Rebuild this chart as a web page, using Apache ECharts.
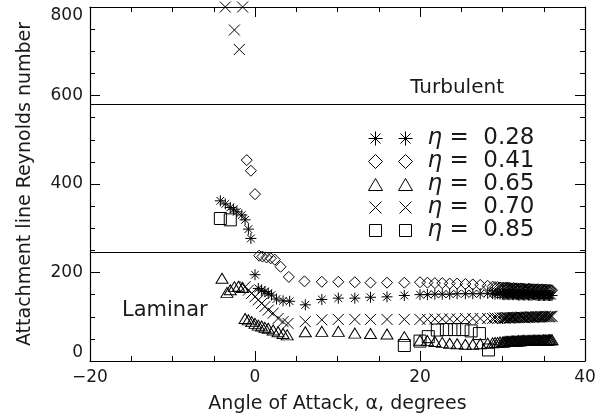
<!DOCTYPE html>
<html>
<head>
<meta charset="utf-8">
<script src="https://cdn.jsdelivr.net/npm/echarts@6/dist/echarts.min.js"></script>
<style>
html,body{margin:0;padding:0;background:#fff;}
#chart{width:602px;height:417px;}
</style>
</head>
<body>
<div id="chart"></div>
<script>
// ---- data (angle of attack in degrees, attachment-line Reynolds number) ----
const etaLabels = ['0.28', '0.41', '0.65', '0.70', '0.85'];

const eta028 = [
  [-4.2,362],[-3.6,355],[-3.0,347],[-2.6,343],[-2.2,337],[-1.6,330],[-1.2,319],[-0.8,298],[-0.5,277],
  [0.0,195],[0.4,164],[0.8,160],[1.2,157],[1.6,153],[2.0,149],[2.6,140],[3.4,136],[4.2,135],
  [6.1,127],[8.1,139],[10.1,142],[12.1,142],[14.0,144],[16.0,145],[18.1,148],
  [20.0,150],[20.9,150],[21.8,151],[22.7,151],[23.6,151],[24.5,152],[25.5,152],[26.4,152],[27.3,152],[28.2,153],
  [28.8,152],[29.1,151],[29.4,152],[29.7,151],[30.0,151],[30.15,150],[30.3,150],[30.45,151],[30.6,151],[30.75,150],
  [30.9,150],[31.05,151],[31.2,150],[31.35,150],[31.5,151],[31.65,150],[31.8,150],[31.95,149],[32.1,149],[32.25,150],
  [32.4,150],[32.55,149],[32.7,149],[32.85,150],[33.0,150],[33.15,149],[33.3,149],[33.45,149],[33.6,149],[33.75,150],
  [33.9,150],[34.05,149],[34.2,149],[34.35,148],[34.5,148],[34.65,149],[34.8,149],[34.95,148],[35.1,148],[35.25,149],
  [35.4,149],[35.55,148],[35.7,148],[35.85,148],[36.0,148]
];
const eta041 = [
  [-1.0,454],[-0.5,430],[0.0,377],[0.5,238],[0.9,236],[1.4,234],[1.9,232],[2.4,229],[3.1,213],[4.1,190],
  [6.0,180],[8.1,179],[10.1,179],[12.1,178],[14.0,177],[16.0,177],[18.1,177],
  [20.0,178],[20.9,177],[21.8,176],[22.7,176],[23.6,175],[24.5,175],[25.5,174],[26.4,173],[27.3,172],[28.2,170],
  [28.8,168],[29.1,167],[29.4,167],[29.7,166],[30.0,166],[30.15,165],[30.3,165],[30.45,166],[30.6,165],[30.75,165],
  [30.9,165],[31.05,164],[31.2,164],[31.35,165],[31.5,164],[31.65,164],[31.8,164],[31.95,163],[32.1,163],[32.25,164],
  [32.4,163],[32.55,163],[32.7,163],[32.85,162],[33.0,162],[33.15,163],[33.3,163],[33.45,162],[33.6,162],[33.75,162],
  [33.9,162],[34.05,161],[34.2,162],[34.35,162],[34.5,161],[34.65,161],[34.8,162],[34.95,161],[35.1,161],[35.25,161],
  [35.4,161],[35.55,160],[35.7,161],[35.85,160],[36.0,160]
];
const eta065 = [
  [-4.0,187],[-3.4,155],[-3.0,161],[-2.5,168],[-2.0,169],[-1.5,166],
  [-1.2,96],[-0.8,93],[-0.4,89],[0.0,85],[0.4,81],[0.8,79],[1.2,76],[1.6,74],[2.2,70],[2.8,66],[3.4,62],[3.9,59],
  [6.1,66],[8.1,67],[10.1,67],[12.1,63],[14.0,62],[16.0,61],[18.1,55],
  [20.0,47],[20.9,46],[21.8,44],[22.7,42],[23.6,40],[24.5,39],[25.5,38],[26.4,38],[27.3,39],[28.2,40],
  [28.8,41],[29.1,42],[29.4,42],[29.7,43],[30.0,43],[30.15,43],[30.3,44],[30.45,44],[30.6,44],[30.75,44],
  [30.9,44],[31.05,45],[31.2,45],[31.35,45],[31.5,45],[31.65,45],[31.8,45],[31.95,46],[32.1,45],[32.25,46],
  [32.4,46],[32.55,46],[32.7,46],[32.85,46],[33.0,46],[33.15,46],[33.3,46],[33.45,47],[33.6,46],[33.75,47],
  [33.9,47],[34.05,47],[34.2,47],[34.35,47],[34.5,47],[34.65,47],[34.8,47],[34.95,48],[35.1,47],[35.25,48],
  [35.4,47],[35.55,48],[35.7,48],[35.85,48],[36.0,48]
];
const eta070 = [
  [-3.6,800],[-1.5,800],[-2.5,748],[-1.9,704],
  [-1.2,168],[-0.8,160],[-0.4,153],[0.0,145],[0.4,138],[0.8,130],[1.2,123],[1.6,115],[2.2,108],[2.8,96],[3.4,89],[4.0,85],
  [6.1,89],[8.1,93],[10.1,94],[12.1,94],[14.0,94],[16.0,94],[18.1,94],
  [20.0,94],[20.9,94],[21.8,95],[22.7,95],[23.6,95],[24.5,95],[25.5,96],[26.4,96],[27.3,96],[28.2,96],
  [28.8,96],[29.1,97],[29.4,96],[29.7,97],[30.0,97],[30.15,97],[30.3,97],[30.45,98],[30.6,98],[30.75,97],
  [30.9,97],[31.05,98],[31.2,98],[31.35,98],[31.5,98],[31.65,98],[31.8,98],[31.95,99],[32.1,98],[32.25,99],
  [32.4,99],[32.55,98],[32.7,98],[32.85,99],[33.0,99],[33.15,99],[33.3,99],[33.45,100],[33.6,99],[33.75,99],
  [33.9,99],[34.05,100],[34.2,100],[34.35,100],[34.5,99],[34.65,100],[34.8,100],[34.95,100],[35.1,100],[35.25,101],
  [35.4,100],[35.55,100],[35.7,100],[35.85,101],[36.0,101]
];
const eta085 = [
  [-4.2,322],[-3.0,319],[18.1,35],[20.0,45],[21.0,55],[22.1,70],[23.2,71],[24.2,71],[25.2,71],[26.2,68],[27.2,62],[28.3,25]
];
const turbulentLevel = 580;
const laminarLevel = 246;
// ---------------------------------------------------------------------------

const FONT = 'DejaVu Sans';
const INK = '#1a1a1a';

const asteriskPath = 'path://M0,5L10,5M5,0L5,10M1.5,1.5L8.5,8.5M8.5,1.5L1.5,8.5';
const crossPath = 'path://M0,0L10,10M10,0L0,10';

const legendIcons = [
  'path://M0,7L14,7M7,0L7,14M2,2L12,12M12,2L2,12M30,7L44,7M37,0L37,14M32,2L42,12M42,2L32,12',
  'path://M7,0L14,7L7,14L0,7ZM37,0L44,7L37,14L30,7Z',
  'path://M7,1L14,13L0,13ZM37,1L44,13L30,13ZM0,0M44,14',
  'path://M1,1L13,13M13,1L1,13M31,1L43,13M43,1L31,13M0,0M44,14',
  'path://M1,1L13,1L13,13L1,13ZM31,1L43,1L43,13L31,13ZM0,0M44,14'
];

const seriesData = [eta028, eta041, eta065, eta070, eta085];
const seriesSymbols = [asteriskPath, 'diamond', 'triangle', crossPath, 'rect'];
const seriesSizes = [11, 11, [12, 10], 11, 12];
const names = etaLabels.map(v => 'η = ' + v);

const fmtNum = v => (v < 0 ? '\u2212' + Math.abs(v) : String(v));

const axisLineStyle = { color: '#000', width: 1.2 };
const tickStyle = { color: '#000', width: 1 };

function makeAxis(isX, position, showLabels) {
  const ax = {
    type: 'value',
    position: position,
    gridIndex: 0,
    min: isX ? -20 : 0,
    max: isX ? 40 : 800,
    interval: isX ? 20 : 200,
    axisLine: { show: true, onZero: false, lineStyle: axisLineStyle },
    axisTick: { show: true, inside: true, length: 10, lineStyle: tickStyle },
    minorTick: { show: true, splitNumber: 4, length: 5, lineStyle: tickStyle },
    splitLine: { show: false },
    minorSplitLine: { show: false },
    axisLabel: {
      show: showLabels,
      fontFamily: FONT, fontSize: 17, color: INK,
      margin: isX ? 8 : 7,
      formatter: fmtNum
    }
  };
  if (!isX) {
    ax.axisLabel.verticalAlignMinLabel = 'bottom';
    ax.axisLabel.verticalAlignMaxLabel = 'top';
  }
  return ax;
}

const xBottom = makeAxis(true, 'bottom', true);
xBottom.name = 'Angle of Attack, α, degrees';
xBottom.nameLocation = 'middle';
xBottom.nameGap = 34;
xBottom.nameTextStyle = { fontFamily: FONT, fontSize: 19, color: INK };
const xTop = makeAxis(true, 'top', false);

const yLeft = makeAxis(false, 'left', true);
yLeft.name = 'Attachment line Reynolds number';
yLeft.nameLocation = 'middle';
yLeft.nameGap = 55;
yLeft.nameTextStyle = { fontFamily: FONT, fontSize: 19, color: INK };
const yRight = makeAxis(false, 'right', false);

const series = seriesData.map((d, i) => ({
  type: 'scatter',
  name: names[i],
  xAxisIndex: 0,
  yAxisIndex: 0,
  data: d,
  symbol: seriesSymbols[i],
  symbolSize: seriesSizes[i],
  silent: true,
  clip: false,
  itemStyle: { color: 'rgba(0,0,0,0)', borderColor: '#000', borderWidth: 1, opacity: 1 },
  emphasis: { disabled: true }
}));

series.push({
  type: 'line',
  name: 'levels',
  xAxisIndex: 0,
  yAxisIndex: 0,
  data: [],
  silent: true,
  markLine: {
    silent: true,
    symbol: ['none', 'none'],
    label: { show: false },
    lineStyle: { color: '#000', width: 1.2, type: 'solid' },
    emphasis: { disabled: true },
    data: [{ yAxis: turbulentLevel }, { yAxis: laminarLevel }]
  }
});

const option = {
  animation: false,
  backgroundColor: '#fff',
  grid: { left: 90, right: 17, top: 7, bottom: 56, containLabel: false, outerBoundsMode: 'none' },
  xAxis: [xBottom, xTop],
  yAxis: [yLeft, yRight],
  legend: {
    show: true,
    orient: 'vertical',
    left: 363,
    top: 122,
    itemWidth: 44,
    itemHeight: 14,
    itemGap: 0,
    selectedMode: false,
    data: names.map((n, i) => ({ name: n, icon: legendIcons[i] })),
    itemStyle: { color: 'rgba(0,0,0,0)', borderColor: '#000', borderWidth: 1 },
    formatter: function (name) {
      const v = name.split('= ')[1];
      return '{g|}{e|η}{t| =  ' + v + '}';
    },
    textStyle: {
      fontFamily: FONT, fontSize: 23, lineHeight: 23, color: INK,
      rich: {
        g: { width: 10 },
        e: { fontFamily: FONT, fontSize: 23, fontStyle: 'italic', color: INK, lineHeight: 23 },
        t: { fontFamily: FONT, fontSize: 23, color: INK, lineHeight: 23 }
      }
    }
  },
  graphic: [
    { type: 'text', right: 98, top: 78, silent: true,
      style: { text: 'Turbulent', fontFamily: FONT, fontSize: 20, fill: INK } },
    { type: 'text', left: 122, top: 300, silent: true,
      style: { text: 'Laminar', fontFamily: FONT, fontSize: 21, fill: INK } }
  ],
  series: series
};

const chart = echarts.init(document.getElementById('chart'), null, { renderer: 'canvas' });
chart.setOption(option);
</script>
</body>
</html>
